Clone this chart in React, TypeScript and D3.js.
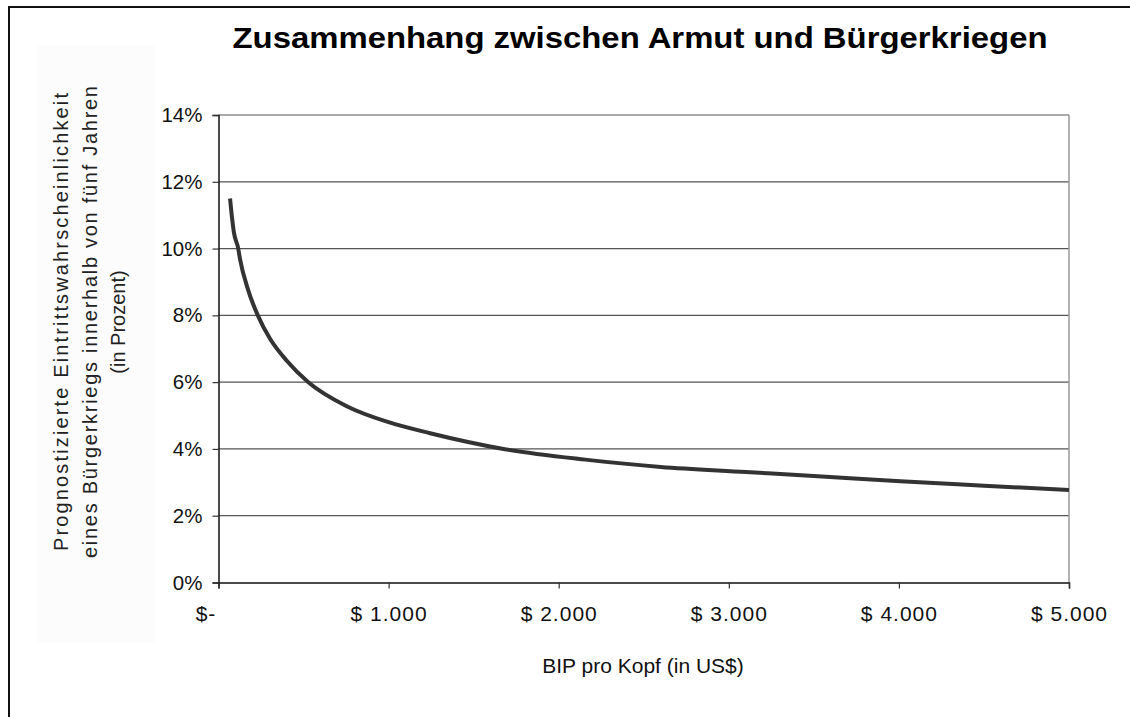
import { useEffect, useRef } from "react";
import * as d3 from "d3";

// BIP pro Kopf (US$) and predicted probability (%)
const gdpValues = [68, 80, 90, 116, 126, 175, 231, 303, 400, 528, 754, 1000, 1244, 1675, 2156, 2600, 3100, 3500, 4009, 4500, 5000];
const probValues = [11.5, 10.9, 10.5, 10.0, 9.7, 8.75, 8.0, 7.3, 6.65, 6.0, 5.28, 4.8, 4.47, 4.0, 3.68, 3.46, 3.31, 3.19, 3.03, 2.9, 2.77];

const xTicks = [0, 1000, 2000, 3000, 4000, 5000];
const xTickLabels = ["$-", "$ 1.000", "$ 2.000", "$ 3.000", "$ 4.000", "$ 5.000"];
const yTicks = [0, 2, 4, 6, 8, 10, 12, 14];

const chartTitle = "Zusammenhang zwischen Armut und Bürgerkriegen";
const xTitle = "BIP pro Kopf (in US$)";
const yTitleLines = [
  "Prognostizierte Eintrittswahrscheinlichkeit",
  "eines  Bürgerkriegs innerhalb von fünf Jahren",
  "(in Prozent)",
];

export default function App() {
  const svgRef = useRef<SVGSVGElement>(null);

  useEffect(() => {
    const root = d3.select(svgRef.current);
    root.selectAll("*").remove();

    const W = 1130, H = 717;
    const left = 218.5, right = 1069, top = 115, bottom = 582.5;
    const font = "'Liberation Sans', Arial, sans-serif";

    root.attr("width", W).attr("height", H);

    // outer frame (runs off to the right and bottom)
    root.append("rect")
      .attr("x", 9).attr("y", 7)
      .attr("width", W).attr("height", H)
      .attr("fill", "white")
      .attr("stroke", "#111")
      .attr("stroke-width", 2);

    // faint box behind y title
    root.append("rect")
      .attr("x", 37).attr("y", 46)
      .attr("width", 118).attr("height", 597)
      .attr("fill", "#fcfcfc");

    const x = d3.scaleLinear().domain([0, 5000]).range([left, right]);
    const y = d3.scaleLinear().domain([0, 14]).range([bottom, top]);

    const g = root.append("g");

    // gridlines
    g.selectAll("line.grid")
      .data(yTicks.filter(d => d > 0))
      .enter()
      .append("line")
      .attr("class", "grid")
      .attr("x1", left).attr("x2", right)
      .attr("y1", d => y(d)).attr("y2", d => y(d))
      .attr("stroke", "#555")
      .attr("stroke-width", 1.2);

    // right border of plot
    g.append("line")
      .attr("x1", right).attr("x2", right)
      .attr("y1", top).attr("y2", bottom)
      .attr("stroke", "#999")
      .attr("stroke-width", 1.5);

    // y axis
    const yAxis = g.append("g")
      .attr("transform", `translate(${left},0)`)
      .call(d3.axisLeft(y).tickValues(yTicks).tickSize(6).tickPadding(10).tickFormat(d => `${d}%`));
    yAxis.select(".domain").attr("stroke", "#111").attr("stroke-width", 1.5);
    yAxis.selectAll(".tick line").attr("stroke", "#333").attr("stroke-width", 1.2);
    yAxis.selectAll("text")
      .attr("font-family", font)
      .attr("font-size", 20.5)
      .attr("fill", "#111");

    // x axis
    const xAxis = g.append("g")
      .attr("transform", `translate(0,${bottom})`)
      .call(d3.axisBottom(x).tickValues(xTicks).tickSize(6).tickPadding(18)
        .tickFormat((d, i) => xTickLabels[i]));
    xAxis.select(".domain").attr("stroke", "#111").attr("stroke-width", 1.5);
    xAxis.selectAll(".tick line").attr("stroke", "#333").attr("stroke-width", 1.2);
    xAxis.selectAll("text")
      .attr("font-family", font)
      .attr("font-size", 21)
      .attr("letter-spacing", 1)
      .attr("fill", "#111")
      .attr("dx", (d, i) => (i === 0 ? -13 : 0));

    // curve
    const pts = gdpValues.map((v, i) => [v, probValues[i]] as [number, number]);
    const line = d3.line<[number, number]>()
      .x(d => x(d[0]))
      .y(d => y(d[1]))
      .curve(d3.curveMonotoneX);
    g.append("path")
      .datum(pts)
      .attr("d", line)
      .attr("fill", "none")
      .attr("stroke", "#333")
      .attr("stroke-width", 4);

    // titles
    root.append("text")
      .attr("x", 640).attr("y", 48)
      .attr("text-anchor", "middle")
      .attr("font-family", font)
      .attr("font-weight", "bold")
      .attr("font-size", 30)
      .attr("textLength", 815)
      .attr("lengthAdjust", "spacingAndGlyphs")
      .attr("fill", "#000")
      .text(chartTitle);

    root.append("text")
      .attr("x", 643).attr("y", 673)
      .attr("text-anchor", "middle")
      .attr("font-family", font)
      .attr("font-size", 21)
      .attr("fill", "#111")
      .text(xTitle);

    const yt = root.append("g").attr("transform", "translate(0,322) rotate(-90)");
    yTitleLines.forEach((t, i) => {
      const txt = yt.append("text")
        .attr("x", 0)
        .attr("y", 61 + i * 28.5)
        .attr("text-anchor", "middle")
        .attr("dominant-baseline", "central")
        .attr("font-family", font)
        .attr("font-size", 20)
        .attr("fill", "#222")
        .text(t);
      if (i < 2) txt.attr("textLength", i === 0 ? 458 : 472).attr("lengthAdjust", "spacing");
    });
  }, []);

  return <svg ref={svgRef} style={{ position: "absolute", left: 0, top: 0, display: "block" }}></svg>;
}
